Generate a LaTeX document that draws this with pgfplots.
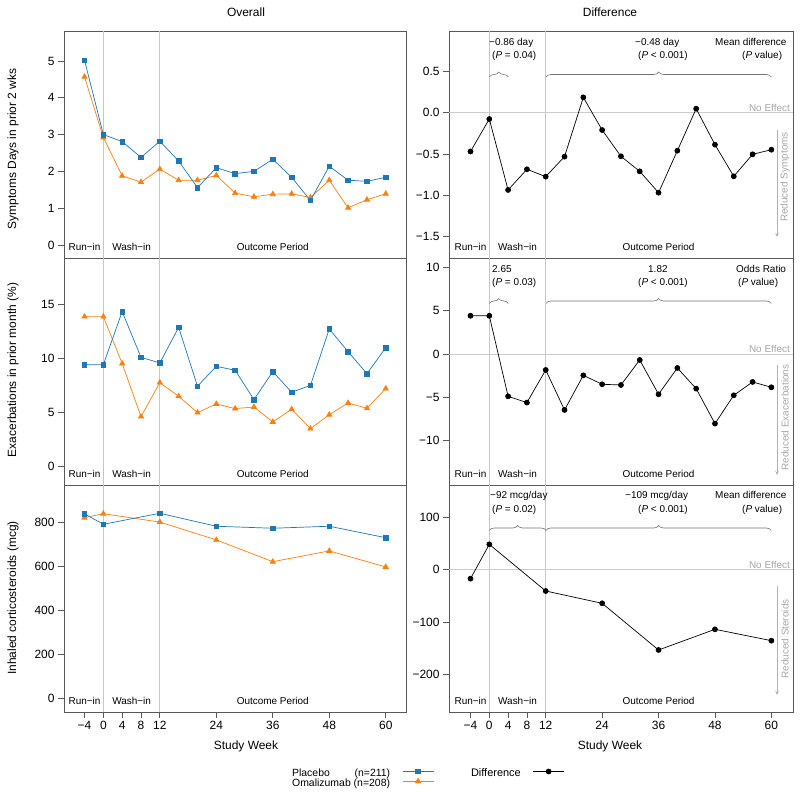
\documentclass[border=0pt]{standalone}
\usepackage{pgfplots}
\pgfplotsset{compat=1.18}
\usepackage{fontspec}
\setmainfont{Liberation Sans}
\usetikzlibrary{decorations.pathreplacing,arrows.meta}
\definecolor{cblue}{RGB}{31,119,180}
\definecolor{corange}{RGB}{255,127,14}
\newcommand{\fs}[1]{\fontsize{#1}{#1}\selectfont}
\pgfplotsset{
  panel/.style={scale only axis, height=227bp,
    axis line style={black!65, line width=0.7bp},
    every tick/.style={black!65, line width=0.7bp},
    tick align=outside, major tick length=6bp,
    xtick=\empty, ytick pos=left, xtick pos=left, clip=false,
    tick label style={font=\fs{12}},
    anchor=north west},
  colL/.style={panel, width=342bp, xmin=-8.36, xmax=64.3},
  colR/.style={panel, width=344bp, xmin=-8.57, xmax=64.6},
  bottomrow/.style={xtick={-4,0,4,8,12,24,36,48,60}, xticklabels={−4,0,4,8,12,24,36,48,60}},
  pl/.style={cblue, line width=0.7bp, mark=square*, mark size=2.3bp},
  om/.style={corange, line width=0.7bp, mark=triangle*, mark size=3bp},
  df/.style={black, line width=0.7bp, mark=*, mark size=2.5bp},
  legimg/.style={legend image code/.code={\draw[mark repeat=2,mark phase=2,##1] plot coordinates {(0bp,3bp) (15.5bp,3bp) (31bp,3bp)};}},
}
\newcommand{\regions}[2]{%
  \draw[black!22, line width=1bp] (axis cs:0,#1) -- (axis cs:0,#2);
  \draw[black!22, line width=1bp] (axis cs:12,#1) -- (axis cs:12,#2);
  \node[font=\fs{10}, anchor=base, yshift=7.5bp] at (axis cs:-4,#1) {Run−in};
  \node[font=\fs{10}, anchor=base, yshift=7.5bp] at (axis cs:6,#1) {Wash−in};
  \node[font=\fs{10}, anchor=base, yshift=7.5bp] at (axis cs:36,#1) {Outcome Period};
}
\newcommand{\zeroline}{\draw[black!20, line width=1bp] (axis cs:-8.57,0) -- (axis cs:64.6,0);}
\begin{document}
\begin{tikzpicture}[x=1bp,y=1bp]
\useasboundingbox (0,0) rectangle (800,795);

% ---------- Top left
\begin{axis}[colL, at={(64bp,764bp)}, ymin=-0.353, ymax=5.815,
  ytick={0,1,2,3,4,5}, yticklabels={0,1,2,3,4,5}]
\regions{-0.353}{5.815}
\addplot[om] coordinates {(-4,4.57)(0,2.92)(4,1.88)(8,1.71)(12,2.06)(16,1.76)(20,1.76)(24,1.89)(28,1.41)(32,1.31)(36,1.38)(40,1.39)(44,1.29)(48,1.76)(52,1.01)(56,1.23)(60,1.39)};
\addplot[pl] coordinates {(-4,5.02)(0,3.00)(4,2.81)(8,2.38)(12,2.82)(16,2.28)(20,1.56)(24,2.10)(28,1.94)(32,2.00)(36,2.33)(40,1.84)(44,1.21)(48,2.14)(52,1.76)(56,1.73)(60,1.84)};
\end{axis}

% ---------- Top right
\begin{axis}[colR, at={(449bp,764bp)}, ymin=-1.758, ymax=0.988,
  ytick={-1.5,-1,-0.5,0,0.5}, yticklabels={−1.5,−1.0,−0.5,0.0,0.5}]
\regions{-1.758}{0.988}
\zeroline
\addplot[df] coordinates {(-4,-0.47)(0,-0.077)(4,-0.935)(8,-0.685)(12,-0.774)(16,-0.532)(20,0.185)(24,-0.21)(28,-0.528)(32,-0.71)(36,-0.968)(40,-0.46)(44,0.048)(48,-0.387)(52,-0.77)(56,-0.504)(60,-0.448)};
\end{axis}

% ---------- Middle left
\begin{axis}[colL, at={(64bp,537bp)}, ymin=-1.73, ymax=19.25,
  ytick={0,5,10,15}, yticklabels={0,5,10,15}]
\regions{-1.73}{19.25}
\addplot[om] coordinates {(-4,13.83)(0,13.83)(4,9.49)(8,4.59)(12,7.73)(16,6.47)(20,4.96)(24,5.76)(28,5.33)(32,5.48)(36,4.10)(40,5.27)(44,3.48)(48,4.77)(52,5.85)(56,5.36)(60,7.18)};
\addplot[pl] coordinates {(-4,9.39)(0,9.39)(4,14.29)(8,10.07)(12,9.55)(16,12.84)(20,7.39)(24,9.24)(28,8.87)(32,6.16)(36,8.75)(40,6.84)(44,7.48)(48,12.69)(52,10.59)(56,8.56)(60,10.96)};
\end{axis}

% ---------- Middle right
\begin{axis}[colR, at={(449bp,537bp)}, ymin=-15.1, ymax=11.07,
  ytick={-10,-5,0,5,10}, yticklabels={−10,−5,0,5,10}]
\regions{-15.1}{11.07}
\zeroline
\addplot[df] coordinates {(-4,4.41)(0,4.41)(4,-4.88)(8,-5.6)(12,-1.84)(16,-6.45)(20,-2.46)(24,-3.49)(28,-3.57)(32,-0.69)(36,-4.64)(40,-1.61)(44,-3.99)(48,-8.02)(52,-4.76)(56,-3.22)(60,-3.84)};
\end{axis}

% ---------- Bottom left
\begin{axis}[colL, bottomrow, at={(64bp,310bp)}, ymin=-62, ymax=969.5,
  ytick={0,200,400,600,800}, yticklabels={0,200,400,600,800},
  legimg, legend plot pos=right, reverse legend, legend cell align=left,
  legend style={draw=none, fill=none, at={(0.667,-0.251)}, anchor=north west,
    inner sep=0pt, outer sep=0pt, row sep=-1bp, column sep=12bp, font=\fs{10.5},
    nodes={inner sep=0pt, text height=7.5bp, text depth=2.5bp}}]
\regions{-62}{969.5}
\addplot[om] coordinates {(-4,821)(0,839)(12,801)(24,720)(36,621)(48,670)(60,597)};
\addlegendentry{Omalizumab (n=208)}
\addplot[pl] coordinates {(-4,838)(0,791)(12,841)(24,782)(36,773)(48,782)(60,730)};
\addlegendentry{\makebox[62.5bp][l]{Placebo}(n=211)}
\end{axis}

% ---------- Bottom right
\begin{axis}[colR, bottomrow, at={(449bp,310bp)}, ymin=-272, ymax=161.8,
  ytick={-200,-100,0,100}, yticklabels={−200,−100,0,100},
  legimg, legend plot pos=right, legend cell align=left,
  legend style={draw=none, fill=none, at={(0.064,-0.251)}, anchor=north west,
    inner sep=0pt, outer sep=0pt, row sep=-1bp, column sep=12bp, font=\fs{11},
    nodes={inner sep=0pt, text height=7.5bp, text depth=2.5bp}}]
\regions{-272}{161.8}
\zeroline
\addplot[df] coordinates {(-4,-17.2)(0,48.4)(12,-40.8)(24,-64.3)(36,-153.5)(48,-114)(60,-135.7)};
\addlegendentry{Difference}
\end{axis}

% ---------- titles and labels
\node[font=\fs{12}] at (246,783) {Overall};
\node[font=\fs{12}] at (610,783) {Difference};
\node[font=\fs{12}] at (246,49) {Study Week};
\node[font=\fs{12}] at (610,49) {Study Week};
\node[font=\fs{12}, rotate=90] at (13,646) {Symptoms Days in prior 2 wks};
\node[font=\fs{12}, rotate=90] at (13,425) {Exacerbations in prior month (\%)};
\node[font=\fs{12}, rotate=90] at (13,197) {Inhaled corticosteroids (mcg)};

% ---------- annotations
\begin{scope}[every node/.style={font=\fs{10}, inner sep=0pt, anchor=base west}]
\node at (489,749) {−0.86 day};
\node at (492,736) {(\textit{P} = 0.04)};
\node at (635,749) {−0.48 day};
\node at (638,736) {(\textit{P} < 0.001)};
\node at (715,749) {Mean difference};
\node at (742,736) {(\textit{P} value)};
\node at (492,522.4) {2.65};
\node at (492,509.4) {(\textit{P} = 0.03)};
\node at (648,522.4) {1.82};
\node at (638,509.4) {(\textit{P} < 0.001)};
\node at (736,522.4) {Odds Ratio};
\node at (738,509.4) {(\textit{P} value)};
\node at (490,296) {−92 mcg/day};
\node at (492,282.5) {(\textit{P} = 0.02)};
\node at (625,296) {−109 mcg/day};
\node at (638,282.5) {(\textit{P} < 0.001)};
\node at (715,296) {Mean difference};
\node at (742,282.5) {(\textit{P} value)};
\end{scope}
\begin{scope}[black!55, line width=0.6bp, decoration={brace, amplitude=5bp}]
\draw[decorate] (489.3,718) -- (508.3,718);
\draw[decorate] (546,718) -- (771.3,718);
\draw[decorate] (489.3,491.5) -- (508.3,491.5);
\draw[decorate] (546,491.5) -- (771.3,491.5);
\draw[decorate] (489.3,264.5) -- (546,264.5);
\draw[decorate] (546,264.5) -- (771.3,264.5);
\end{scope}
\begin{scope}[black!30, line width=1bp]
\draw[-{Stealth[length=4bp,width=3.5bp]}] (777,665) -- (777,558);
\draw[-{Stealth[length=4bp,width=3.5bp]}] (777,430) -- (777,320);
\draw[-{Stealth[length=4bp,width=3.5bp]}] (777,209) -- (777,100);
\end{scope}
\begin{scope}[every node/.style={font=\fs{10}, text=black!35}]
\node[rotate=90] at (785,618) {Reduced Symptoms};
\node[rotate=90] at (785,377.5) {Reduced Exacerbations};
\node[rotate=90] at (785,156) {Reduced Steroids};
\node[anchor=base east, inner sep=0pt] at (790,683.3) {No Effect};
\node[anchor=base east, inner sep=0pt] at (790,442) {No Effect};
\node[anchor=base east, inner sep=0pt] at (790,226.3) {No Effect};
\end{scope}
\end{tikzpicture}
\end{document}
